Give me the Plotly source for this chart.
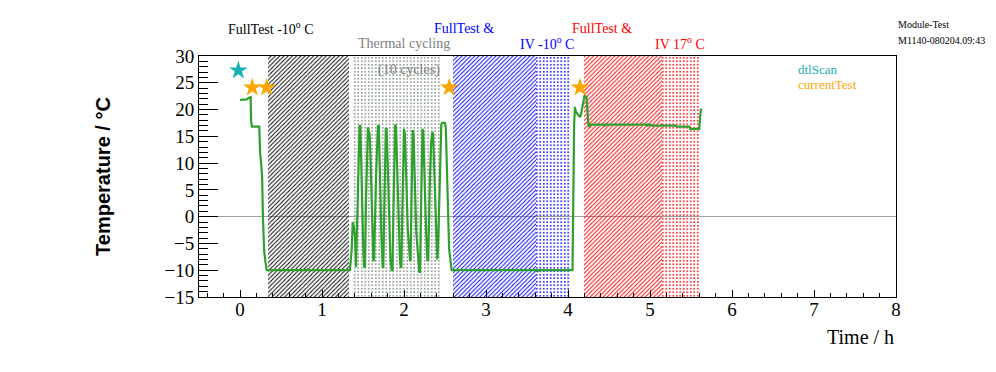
import plotly.graph_objects as go

# ---------------- data ----------------
time_h = [0.0, 0.08, 0.11, 0.13, 0.135, 0.145, 0.235, 0.245, 0.26, 0.27, 0.28, 0.295, 0.31, 0.325,
          0.82, 0.83, 0.84, 1.34,
          1.362, 1.374, 1.39, 1.402, 1.415,
          1.425, 1.435, 1.45, 1.458, 1.468, 1.474, 1.482, 1.492, 1.505, 1.515,
          1.525, 1.535, 1.548, 1.56, 1.57, 1.58, 1.59, 1.60, 1.612, 1.626,
          1.635, 1.645, 1.66, 1.675, 1.683, 1.693, 1.70, 1.71, 1.725, 1.74,
          1.748, 1.758, 1.768, 1.778, 1.788, 1.795, 1.805, 1.82, 1.835, 1.85,
          1.86, 1.87, 1.882, 1.892, 1.902, 1.91, 1.92, 1.935, 1.95, 1.959,
          1.968, 1.978, 1.99, 2.00, 2.01, 2.02, 2.03, 2.045, 2.06, 2.073,
          2.08, 2.09, 2.10, 2.106, 2.116, 2.125, 2.135, 2.15, 2.17, 2.187,
          2.195, 2.205, 2.215, 2.225, 2.235, 2.245, 2.255, 2.27, 2.285,
          2.295, 2.305, 2.318, 2.332, 2.345, 2.355, 2.365, 2.38, 2.395, 2.405,
          2.415, 2.43, 2.445, 2.455, 2.465, 2.50, 2.51, 2.52, 2.535, 2.55, 2.581,
          3.62, 3.63, 3.64, 4.055, 4.06, 4.065, 4.075, 4.085, 4.095, 4.11, 4.126, 4.146,
          4.16, 4.175, 4.187, 4.20, 4.225, 4.235, 4.245, 4.255, 4.265,
          4.44, 4.45, 4.46, 4.96, 4.97, 4.98, 5.02, 5.03, 5.31, 5.325, 5.48, 5.49,
          5.60, 5.61, 5.62, 5.63]
temp_c = [21.8, 21.9, 22.2, 22.3, 18.0, 16.8, 16.8, 12.0, 9.5, 7.3, -0.2, -6.5, -8.4, -10.0,
          -10.0, -9.7, -10.0, -10.0,
          -6.2, -1.0, -2.0, -3.7, -9.4,
          -2.0, 5.0, 12.0, 16.9, 16.9, 12.0, 6.0, 0.0, -7.0, -9.4,
          -9.4, 2.0, 10.0, 16.7, 16.0, 15.5, 12.0, 6.0, -3.0, -8.1,
          -8.1, 0.0, 8.0, 14.0, 16.9, 16.9, 12.0, 4.0, -4.0, -9.4,
          -9.4, 0.0, 10.0, 16.4, 16.4, 12.0, 6.0, -2.0, -8.0, -10.0,
          -10.0, 0.0, 8.0, 17.2, 16.9, 12.0, 5.0, -3.0, -8.0, -9.4,
          -9.4, 0.0, 9.0, 16.4, 15.5, 12.0, 6.0, -2.0, -6.0, -8.1,
          -8.1, 2.0, 10.0, 16.2, 15.5, 12.0, 5.0, -3.0, -8.0, -10.3,
          -10.3, 0.0, 10.0, 16.4, 15.8, 12.0, 5.0, -3.0, -8.1,
          -8.1, 0.0, 8.0, 14.0, 15.8, 15.5, 10.0, 2.0, -5.0, -8.0,
          -6.0, 5.0, 14.0, 17.2, 17.5, 17.5, 16.5, 10.0, 0.0, -6.0, -10.0,
          -10.0, -10.3, -10.0, -10.0, 0.0, 14.2, 17.3, 20.5, 19.6, 19.3, 18.9, 18.6,
          19.2, 20.8, 22.0, 22.5, 22.4, 19.5, 17.9, 16.7, 17.2,
          17.2, 16.9, 17.2, 17.2, 16.9, 17.2, 17.1, 17.0, 17.0, 16.8, 16.8, 16.4,
          16.4, 18.9, 20.1, 19.9]

dtl_time = [-0.02]
dtl_temp = [27.3]
cur_time = [0.15, 0.325, 2.55, 4.146]
cur_temp = [24.1, 24.1, 24.1, 24.1]

region_start = [0.341, 1.378, 2.598, 3.61, 4.195, 5.146]
region_end = [1.329, 2.451, 3.61, 4.037, 5.146, 5.598]
region_color = ["black", "#7a8a7a", "blue", "blue", "red", "red"]
region_shape = ["/", ".", "/", ".", "/", "."]

x_range = [-0.5, 8.0]
y_range = [-15, 30]

serif = "Liberation Serif"

fig = go.Figure()

# hatched test regions
for s, e, c, p in zip(region_start, region_end, region_color, region_shape):
    fig.add_trace(go.Bar(
        x=[(s + e) / 2], y=[y_range[1] - y_range[0]], base=[y_range[0]], width=[e - s],
        marker=dict(color=c, line=dict(width=0),
                    pattern=dict(shape=p, fillmode="replace",
                                 size=3 if p == "/" else 3.5,
                                 solidity=0.32 if p == "/" else 0.2)),
        hoverinfo="skip", showlegend=False))

fig.add_trace(go.Scatter(x=time_h, y=temp_c, mode="lines",
                         line=dict(color="#2fa02f", width=2.2), showlegend=False))
fig.add_trace(go.Scatter(x=dtl_time, y=dtl_temp, mode="markers",
                         marker=dict(symbol="star", size=14, color="#19b2b2", line=dict(width=0)),
                         showlegend=False))
fig.add_trace(go.Scatter(x=cur_time, y=cur_temp, mode="markers",
                         marker=dict(symbol="star", size=14, color="#ffa500", line=dict(width=0)),
                         showlegend=False))

ann = []
def txt(x, y, s, color, size, xref="x", xanchor="center", family=serif):
    ann.append(dict(x=x, y=y, xref=xref, yref="paper", text=s, showarrow=False,
                    xanchor=xanchor, yanchor="middle",
                    font=dict(family=family, size=size, color=color)))

txt(0.384, 1.115, "FullTest -10<sup>o</sup> C", "black", 14)
txt(1.994, 1.052, "Thermal cycling", "#808080", 14)
txt(2.06, 0.942, "(10 cycles)", "#808080", 14)
txt(2.726, 1.115, "FullTest &amp;", "blue", 14)
txt(3.744, 1.052, "IV -10<sup>o</sup> C", "blue", 14)
txt(4.415, 1.115, "FullTest &amp;", "red", 14)
txt(5.36, 1.052, "IV 17<sup>o</sup> C", "red", 14)
txt(0.8565, 0.942, "dtlScan", "#19b2b2", 13, xref="paper", xanchor="left")
txt(0.8565, 0.880, "currentTest", "#ffa500", 13, xref="paper", xanchor="left")
txt(1.0, 1.129, "Module-Test", "black", 10, xref="paper", xanchor="left")
txt(1.0, 1.066, "M1140-080204.09:43", "black", 10, xref="paper", xanchor="left")
txt(1.0, -0.166, "Time / h", "black", 20, xref="paper", xanchor="right")

fig.update_layout(
    width=988, height=364,
    margin=dict(l=191, r=100, t=48, b=75),
    paper_bgcolor="white", plot_bgcolor="white",
    barmode="overlay", bargap=0,
    annotations=ann,
    font=dict(family=serif, color="black"),
    xaxis=dict(range=x_range, dtick=1, tick0=0, showgrid=False, zeroline=False,
               showline=True, linecolor="black", linewidth=1, mirror=True,
               ticks="inside", ticklen=7, tickcolor="black", ticklabelstandoff=-5,
               minor=dict(dtick=0.2, ticks="inside", ticklen=4, tickcolor="black", showgrid=False),
               tickfont=dict(family=serif, size=19)),
    yaxis=dict(range=y_range, dtick=5, tick0=0, showgrid=False,
               zeroline=True, zerolinecolor="#a0a0a0", zerolinewidth=1,
               showline=True, linecolor="black", linewidth=1, mirror=True,
               ticks="inside", ticklen=19, tickcolor="black",
               minor=dict(dtick=1, ticks="inside", ticklen=9, tickcolor="black", showgrid=False),
               tickfont=dict(family=serif, size=19),
               title=dict(text="<b>Temperature / °C</b>",
                          font=dict(family="Liberation Sans", size=20), standoff=48)),
)

fig.write_html("out.html")
